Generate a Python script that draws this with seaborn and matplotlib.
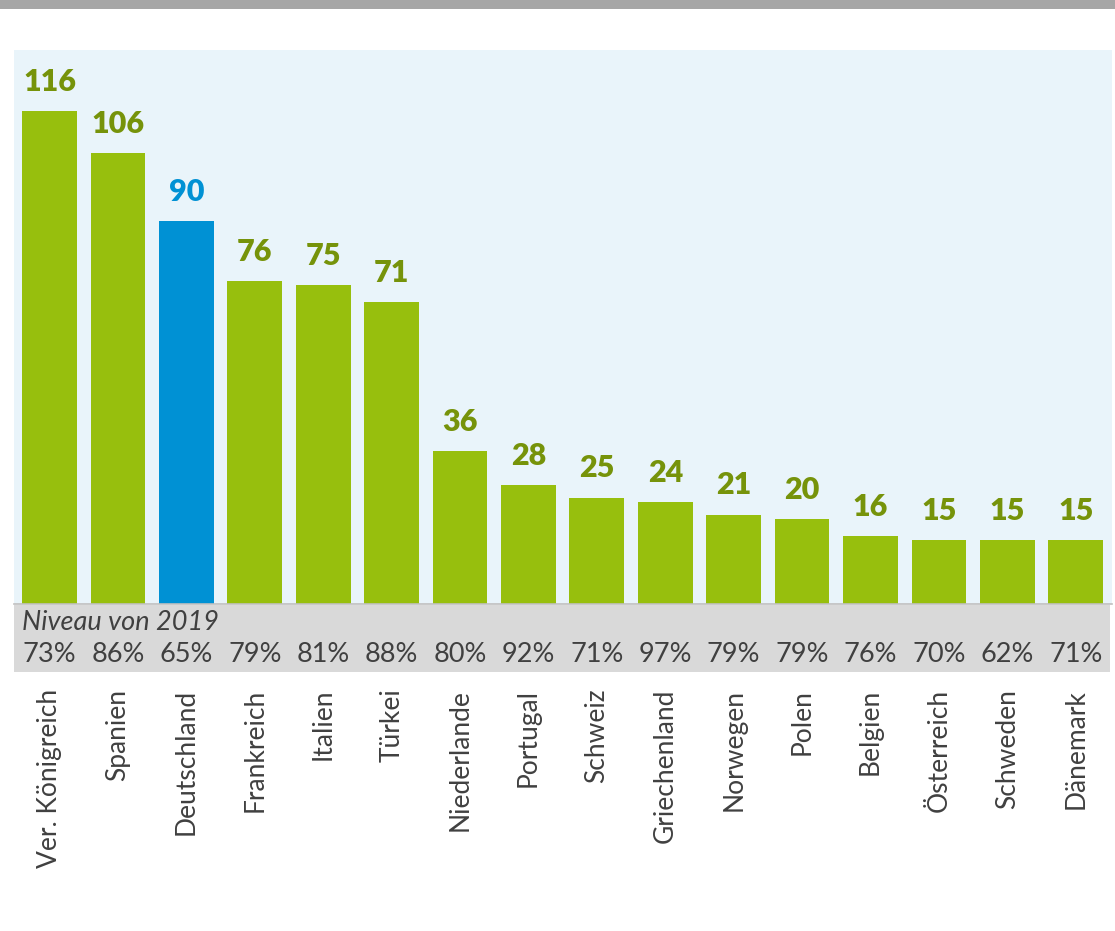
import matplotlib
matplotlib.use("Agg")
import matplotlib.pyplot as plt
from matplotlib.patches import Rectangle
from matplotlib.transforms import blended_transform_factory
import seaborn as sns
import pandas as pd

countries = ["Ver. Königreich", "Spanien", "Deutschland", "Frankreich", "Italien",
             "Türkei", "Niederlande", "Portugal", "Schweiz", "Griechenland",
             "Norwegen", "Polen", "Belgien", "Österreich", "Schweden", "Dänemark"]
values = [116, 106, 90, 76, 75, 71, 36, 28, 25, 24, 21, 20, 16, 15, 15, 15]
level_2019 = [73, 86, 65, 79, 81, 88, 80, 92, 71, 97, 79, 79, 76, 70, 62, 71]
highlight = "Deutschland"

GREEN = "#97bf0d"
GREEN_TXT = "#76930a"
BLUE = "#0091d4"
BLUE_TXT = "#0091d4"
PANEL = "#e9f4fa"
BAND = "#d9d9d9"
TEXT = "#404040"

sns.set_theme(style="white")
plt.rcParams["font.family"] = ["Lato", "DejaVu Sans"]

df = pd.DataFrame({"land": countries, "wert": values})
df["gruppe"] = ["hl" if c == highlight else "std" for c in countries]

W, H = 1115, 931
fig = plt.figure(figsize=(W / 100, H / 100), dpi=100)
fig.patch.set_facecolor("white")

# top grey rule
fig.add_artist(Rectangle((0, 1 - 9 / H), 1, 9 / H, transform=fig.transFigure,
                         facecolor="#a6a6a6", edgecolor="none", zorder=-1))

# grey band with the 2019 comparison level (behind the axes texts)
fig.add_artist(Rectangle((14 / W, 1 - 672 / H), (1110 - 14) / W, (672 - 605) / H,
                         transform=fig.transFigure, facecolor=BAND, edgecolor="none",
                         zorder=-1))

ax = fig.add_axes([14 / W, 1 - 604 / H, (1112 - 14) / W, (604 - 50) / H])
ax.set_facecolor(PANEL)

sns.barplot(data=df, x="land", y="wert", hue="gruppe",
            palette={"std": GREEN, "hl": BLUE}, width=0.8,
            dodge=False, legend=False, ax=ax, saturation=1, linewidth=0)

ax.set_xlim(-0.52, len(countries) - 0.47)
ax.set_ylim(0, 130.3)
ax.set_yticks([])
ax.set_xlabel("")
ax.set_ylabel("")
for s in ["top", "left", "right"]:
    ax.spines[s].set_visible(False)
ax.spines["bottom"].set_color("#bfbfbf")
ax.spines["bottom"].set_linewidth(1.2)

# value labels above the bars
for i, (c, v) in enumerate(zip(countries, values)):
    col = BLUE_TXT if c == highlight else GREEN_TXT
    ax.annotate(f"{v}", (i, v), xytext=(0, 11), textcoords="offset points",
                ha="center", va="bottom", fontsize=22, fontweight="heavy", color=col)

fig.text(22 / W, 1 - 623 / H, "Niveau von 2019", ha="left", va="center",
         fontsize=19.5, fontstyle="italic", color=TEXT)
tr = blended_transform_factory(ax.transData, fig.transFigure)
for i, p in enumerate(level_2019):
    ax.text(i, 1 - 655 / H, f"{p}%", transform=tr, ha="center", va="center",
            fontsize=19.5, color=TEXT, clip_on=False)

# country names
ax.set_xticks(range(len(countries)))
ax.set_xticklabels(countries, rotation=90, ha="center", va="top",
                   fontsize=19, color=TEXT)
ax.tick_params(axis="x", length=0, pad=61)

fig.savefig("out.png", dpi=100, facecolor="white")
